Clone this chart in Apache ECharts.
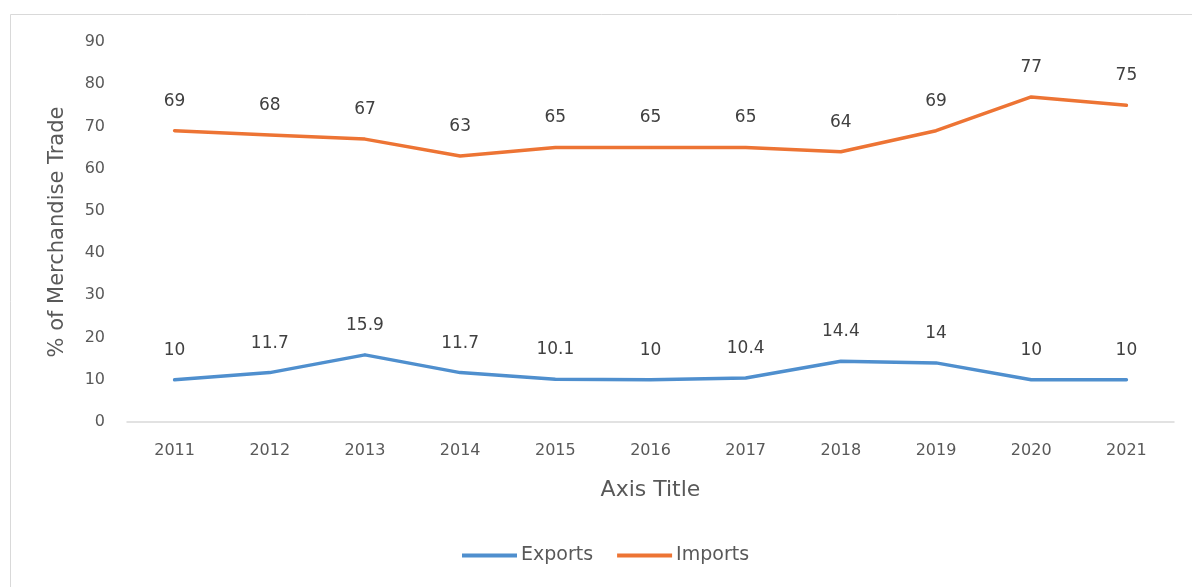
<!DOCTYPE html>
<html>
<head>
<meta charset="utf-8">
<script src="https://cdn.jsdelivr.net/npm/echarts@6/dist/echarts.min.js"></script>
<style>
  html, body { margin: 0; padding: 0; background: #fff; }
  #chart { width: 1192px; height: 587px; }
</style>
</head>
<body>
<div id="chart"></div>
<script>
// Share of merchandise trade, 2011–2021
const years = ['2011', '2012', '2013', '2014', '2015', '2016', '2017', '2018', '2019', '2020', '2021'];
const exportsShare = [10, 11.7, 15.9, 11.7, 10.1, 10, 10.4, 14.4, 14, 10, 10];
const importsShare = [69, 68, 67, 63, 65, 65, 65, 64, 69, 77, 75];

const fontFamily = '"DejaVu Sans", sans-serif';
const chart = echarts.init(document.getElementById('chart'));

const labelStyle = {
  show: true,
  position: 'top',
  distance: 20,
  color: '#404040',
  fontSize: 17,
  fontFamily: fontFamily
};

// Tiny same-coloured markers hide under the line but carry the value labels
const lineSeries = (name, data, color) => ({
  name: name,
  type: 'line',
  data: data,
  symbol: 'circle',
  symbolSize: 2,
  showSymbol: true,
  color: color,
  itemStyle: { color: color },
  lineStyle: { width: 3.5, color: color, cap: 'round', join: 'round' },
  label: labelStyle
});

chart.setOption({
  backgroundColor: '#fff',
  animation: false,
  graphic: [{
    type: 'rect',
    shape: { x: 10.5, y: 14.5, width: 1200, height: 600 },
    style: { fill: 'none', stroke: '#d9d9d9', lineWidth: 1 },
    silent: true
  }],
  grid: { left: 127, right: 18, top: 42, bottom: 165 },
  legend: {
    bottom: 17,
    left: 457,
    itemWidth: 55,
    itemHeight: 4,
    itemGap: 24,
    icon: 'rect',
    textStyle: { color: '#595959', fontSize: 19, fontFamily: fontFamily, padding: [0, 0, 0, -1] },
    data: ['Exports', 'Imports']
  },
  xAxis: {
    type: 'category',
    data: years,
    boundaryGap: true,
    name: 'Axis Title',
    nameLocation: 'middle',
    nameGap: 57,
    nameTextStyle: { color: '#595959', fontSize: 22, fontFamily: fontFamily },
    axisLine: { lineStyle: { color: '#d9d9d9', width: 1.5 } },
    axisTick: { show: false },
    axisLabel: { color: '#595959', fontSize: 16, fontFamily: fontFamily, margin: 21 }
  },
  yAxis: {
    type: 'value',
    min: 0,
    max: 90,
    interval: 10,
    name: '% of Merchandise Trade',
    nameLocation: 'middle',
    nameGap: 59,
    nameTextStyle: { color: '#595959', fontSize: 21, fontFamily: fontFamily },
    axisLine: { show: false },
    axisTick: { show: false },
    splitLine: { show: false },
    axisLabel: { color: '#595959', fontSize: 16, fontFamily: fontFamily, margin: 22 }
  },
  series: [
    lineSeries('Exports', exportsShare, '#4f8fce'),
    lineSeries('Imports', importsShare, '#ed7434')
  ]
});
</script>
</body>
</html>
